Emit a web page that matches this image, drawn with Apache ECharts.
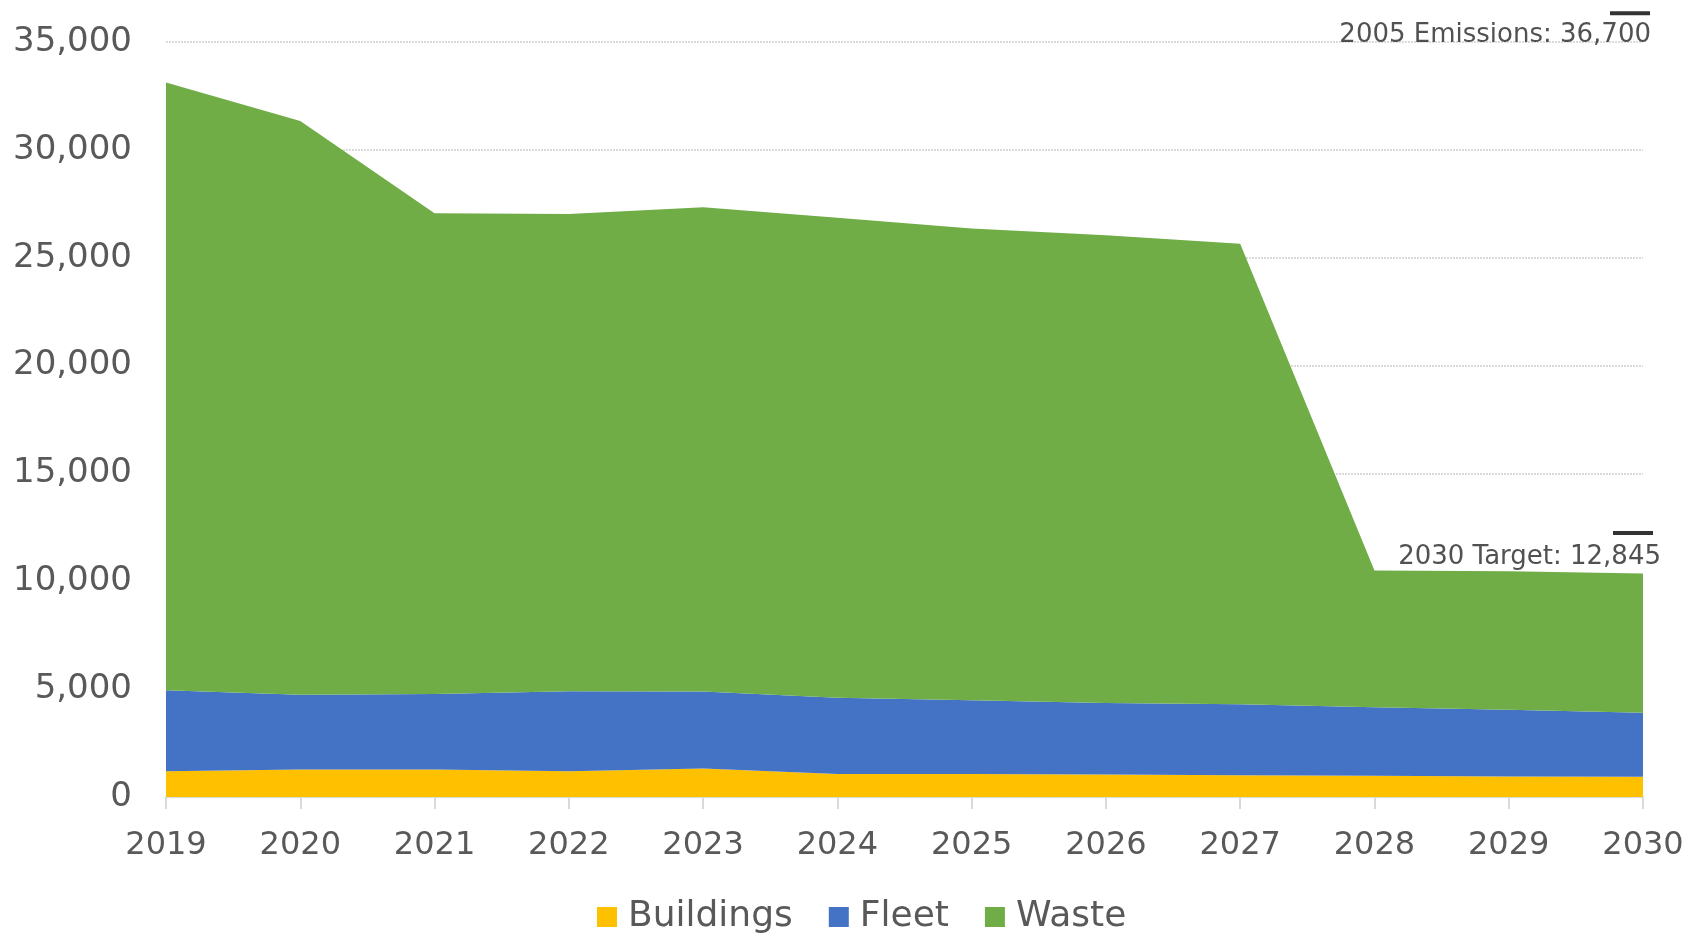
<!DOCTYPE html>
<html>
<head>
<meta charset="utf-8">
<script src="https://cdn.jsdelivr.net/npm/echarts@6/dist/echarts.min.js"></script>
<style>
  html, body { margin: 0; padding: 0; background: #ffffff; }
  #chart { width: 1690px; height: 937px; }
</style>
</head>
<body>
<div id="chart"></div>
<script>
const years = ['2019','2020','2021','2022','2023','2024','2025','2026','2027','2028','2029','2030'];
const buildings = [1190, 1280, 1280, 1190, 1320, 1070, 1065, 1040, 1005, 985, 945, 935];
const fleet = [3755, 3465, 3495, 3710, 3565, 3535, 3415, 3315, 3290, 3170, 3105, 2975];
const waste = [28175, 26595, 22285, 22130, 22455, 22245, 21880, 21685, 21355, 6345, 6410, 6450];
const refNames = ['2005 Emissions', '2030 Target'];
const refValues = [36700, 12845];
const refYear = '2030';

const FONT = 'DejaVu Sans';
const fmt = v => Number(v).toLocaleString('en-US');

const chart = echarts.init(document.getElementById('chart'));
const areaSeries = (name, data, color) => ({
  name: name, type: 'line', stack: 'total', data: data,
  symbol: 'none', showSymbol: false,
  lineStyle: { width: 0 },
  areaStyle: { color: color, opacity: 1 },
  itemStyle: { color: color },
  emphasis: { disabled: true },
  z: 2
});

chart.setOption({
  animation: false,
  grid: { left: 166, right: 47, top: 42, bottom: 140 },
  legend: {
    data: ['Buildings', 'Fleet', 'Waste'],
    left: 592, top: 894,
    icon: 'rect', itemWidth: 20, itemHeight: 20, itemGap: 36,
    textStyle: { fontFamily: FONT, fontSize: 36, color: '#595959', padding: [0, 0, 0, 6] }
  },
  xAxis: {
    type: 'category', data: years, boundaryGap: false,
    axisLine: { show: true, lineStyle: { color: '#d9d9d9', width: 1.5 } },
    axisTick: { show: true, alignWithLabel: true, length: 12, lineStyle: { color: '#d9d9d9', width: 2 } },
    axisLabel: { fontFamily: FONT, fontSize: 32, color: '#595959', margin: 33 },
    splitLine: { show: false }
  },
  yAxis: {
    type: 'value', min: 0, max: 35000, interval: 5000,
    axisLine: { show: false }, axisTick: { show: false },
    axisLabel: { fontFamily: FONT, fontSize: 34, color: '#595959', margin: 34, lineHeight: 40, padding: [8, 0, 0, 0], formatter: v => fmt(v) },
    splitLine: { show: true, lineStyle: { color: '#d0d0d0', width: 1.5, type: [2, 1] } }
  },
  series: [
    areaSeries('Buildings', buildings, '#FFC000'),
    areaSeries('Fleet', fleet, '#4472C4'),
    areaSeries('Waste', waste, '#70AD47'),
    {
      name: 'refs', type: 'scatter', clip: false, z: 5,
      symbol: 'rect', symbolSize: [40, 4],
      itemStyle: { color: '#000000' },
      emphasis: { disabled: true },
      data: [
        { name: refNames[0], value: [refYear, refValues[0]], symbolOffset: [-13, 8],
          label: { show: true, position: [41, 24] } },
        { name: refNames[1], value: [refYear, refValues[1]], symbolOffset: [-10, 13],
          label: { show: true, position: [48, 26] } }
      ],
      label: {
        show: true, align: 'right', verticalAlign: 'middle',
        fontFamily: FONT, fontSize: 26, color: '#262626',
        formatter: p => p.name + ': ' + fmt(p.value[1])
      }
    }
  ]
});
</script>
</body>
</html>
